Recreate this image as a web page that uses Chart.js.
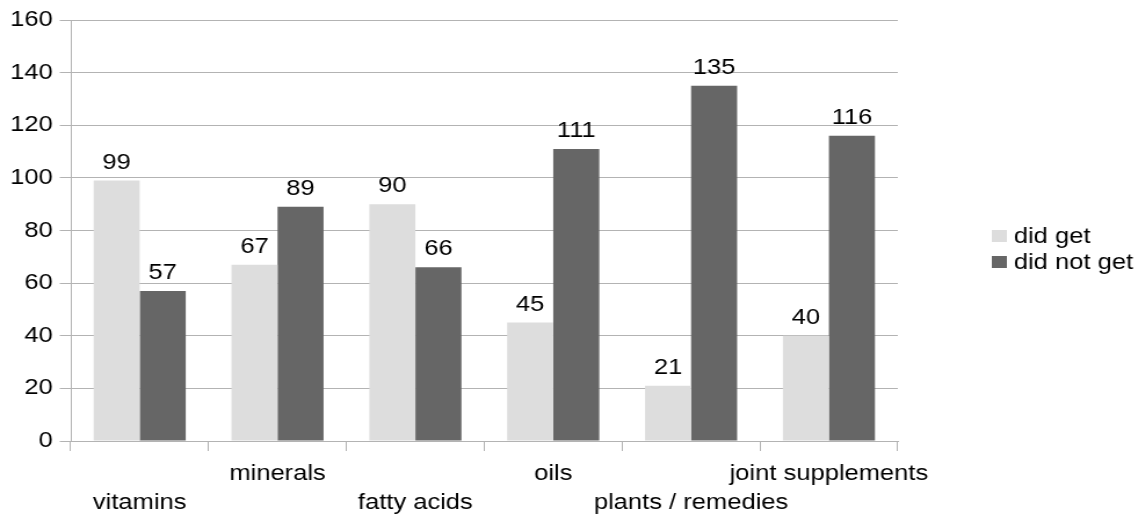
<!DOCTYPE html>
<html>
<head>
<meta charset="utf-8">
<script src="https://cdn.jsdelivr.net/npm/chart.js@4.4.1/dist/chart.umd.min.js"></script>
<style>
  html, body { margin: 0; padding: 0; background: #fff; overflow: hidden; }
  #wrap { width: 989px; height: 515px; transform: scaleX(1.16); transform-origin: 0 0; }
</style>
</head>
<body>
<div id="wrap"><canvas id="chart"></canvas></div>
<script>
const categories = ['vitamins', 'minerals', 'fatty acids', 'oils', 'plants / remedies', 'joint supplements'];
const didGet = [99, 67, 90, 45, 21, 40];
const didNotGet = [57, 89, 66, 111, 135, 116];
const seriesNames = ['did get', 'did not get'];
const seriesColors = ['#dddddd', '#666666'];

const FONT = "'Liberation Sans', Arial, sans-serif";
const GRID = '#b3b3b3';

// numbers above every bar
const valueLabels = {
    id: 'valueLabels',
    afterDatasetsDraw(chart) {
        const ctx = chart.ctx;
        ctx.save();
        ctx.font = '22px ' + FONT;
        ctx.fillStyle = '#000';
        ctx.textAlign = 'center';
        ctx.textBaseline = 'alphabetic';
        chart.data.datasets.forEach((ds, i) => {
            chart.getDatasetMeta(i).data.forEach((bar, j) => {
                ctx.fillText(ds.data[j], bar.x, bar.y - 12);
            });
        });
        ctx.restore();
    }
};

// legend on the right, square swatch + name
const sideLegend = {
    id: 'sideLegend',
    afterDraw(chart) {
        const ctx = chart.ctx;
        ctx.save();
        ctx.font = '22px ' + FONT;
        ctx.textBaseline = 'middle';
        ctx.textAlign = 'left';
        chart.data.datasets.forEach((ds, i) => {
            const y = 236 + i * 26;
            ctx.fillStyle = ds.backgroundColor;
            ctx.fillRect(855, y - 6, 13, 12);
            ctx.fillStyle = '#000';
            ctx.fillText(ds.label, 874, y + 1);
        });
        ctx.restore();
    }
};

new Chart(document.getElementById('chart'), {
    type: 'bar',
    data: {
        labels: categories,
        datasets: [
            { label: seriesNames[0], data: didGet, backgroundColor: seriesColors[0] },
            { label: seriesNames[1], data: didNotGet, backgroundColor: seriesColors[1] }
        ]
    },
    options: {
        responsive: true,
        maintainAspectRatio: false,
        animation: false,
        devicePixelRatio: 1,
        layout: { padding: { top: 20, right: 215, bottom: 0, left: 0 } },
        datasets: { bar: { categoryPercentage: 0.668, barPercentage: 1 } },
        plugins: {
            legend: { display: false },
            tooltip: { enabled: false }
        },
        scales: {
            x: {
                grid: {
                    offset: true,
                    drawOnChartArea: true,
                    color: c => c.index === categories.length ? GRID : 'rgba(0,0,0,0)',
                    tickColor: GRID,
                    tickLength: 10
                },
                border: { display: true, color: GRID },
                ticks: {
                    color: '#000',
                    padding: 9,
                    maxRotation: 0,
                    autoSkip: false,
                    font: { family: FONT, size: 22, lineHeight: 1.3 },
                    // alternate labels drop to a second row
                    callback: (v, i) => i % 2 === 0 ? ['', categories[i]] : categories[i]
                },
                afterFit: s => { s.height = 74; }
            },
            y: {
                min: 0,
                max: 160,
                grid: { color: GRID, tickColor: GRID, tickLength: 9.5 },
                border: { display: true, color: GRID },
                ticks: {
                    stepSize: 20,
                    color: '#000',
                    padding: 6,
                    font: { family: FONT, size: 22 }
                },
                afterFit: s => { s.width = 61; }
            }
        }
    },
    plugins: [valueLabels, sideLegend]
});
</script>
</body>
</html>
